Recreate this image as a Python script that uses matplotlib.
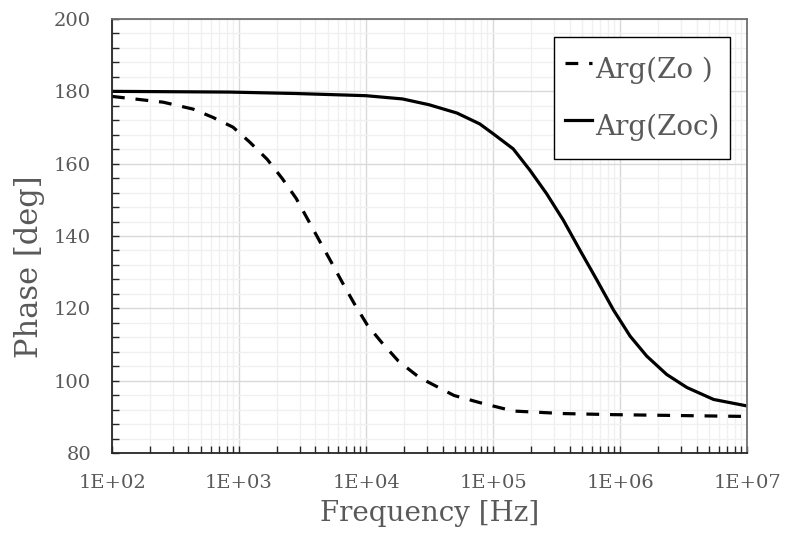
"""
Phase of Zo / Zoc vs frequency
"""
import numpy as np
import matplotlib
matplotlib.use('Agg')
import matplotlib.pyplot as plt
from matplotlib.ticker import FixedLocator, LogLocator, FuncFormatter, NullFormatter

# -----------------------------------
# data
FREQ_ZO = [100, 253, 434, 623, 896, 1211, 1667, 2188, 2818, 3476, 4295, 5301,
           6541, 8079, 10270, 13330, 17990, 25360, 29700, 49300, 79000, 144000,
           357000, 885000, 1e7]
PHASE_ZO = [178.6, 177.0, 175.1, 172.8, 170.1, 166.0, 161.2, 155.9, 150.4, 144.6,
            138.7, 132.9, 127.0, 121.3, 115.3, 110.5, 105.4, 101.3, 99.9, 95.9,
            93.9, 91.6, 90.9, 90.6, 90.1]

FREQ_ZOC = [100, 843, 2818, 10000, 19380, 31330, 52000, 78500, 100000, 144000,
            195000, 264000, 357000, 483000, 655000, 885000, 1.2e6, 1.62e6,
            2.33e6, 3.36e6, 5.45e6, 1e7]
PHASE_ZOC = [180.0, 179.8, 179.4, 178.8, 177.9, 176.3, 174.0, 171.0, 168.3, 164.1,
             158.2, 151.7, 144.4, 136.1, 127.9, 119.6, 112.3, 106.8, 101.7, 98.1,
             94.8, 93.0]

LABELS = ['Arg(Zo )', 'Arg(Zoc)']
XLIM = (1e2, 1e7)
YLIM = (80, 200)
Y_MAJOR = [80, 100, 120, 140, 160, 180, 200]
# -----------------------------------

TXT = '#595959'
plt.rcParams['font.family'] = ['DejaVu Serif']

fig = plt.figure(figsize=(7.86, 5.39), dpi=100)
ax = fig.add_axes([0.1425, 0.1596, 0.808, 0.8051])

ax.plot(FREQ_ZO, PHASE_ZO, color='black', linewidth=2.3, linestyle=(0, (4.0, 3.4)),
        label=LABELS[0])
ax.plot(FREQ_ZOC, PHASE_ZOC, color='black', linewidth=2.3, linestyle='-',
        label=LABELS[1])

ax.set_xscale('log')
ax.set_xlim(XLIM)
ax.set_ylim(YLIM)

ax.xaxis.set_major_locator(LogLocator(base=10, numticks=10))
ax.xaxis.set_minor_locator(LogLocator(base=10, subs=np.arange(2, 10), numticks=20))
ax.xaxis.set_major_formatter(FuncFormatter(lambda v, p: '1E+{:02d}'.format(int(round(np.log10(v))))))
ax.xaxis.set_minor_formatter(NullFormatter())
ax.yaxis.set_major_locator(FixedLocator(Y_MAJOR))
ax.yaxis.set_minor_locator(FixedLocator(np.arange(80, 201, 4)))

ax.grid(which='major', color='#d9d9d9', linewidth=1.0)
ax.grid(which='minor', color='#f0f0f0', linewidth=1.0)
ax.set_axisbelow(True)

ax.tick_params(axis='both', which='both', direction='in', length=5, width=1,
               color='#262626', labelsize=14, labelcolor=TXT, pad=15)
ax.tick_params(axis='x', which='both', top=False)
ax.tick_params(axis='y', which='both', right=False)

for side in ['left', 'bottom']:
    ax.spines[side].set_color('#262626')
    ax.spines[side].set_linewidth(1.3)
for side in ['top', 'right']:
    ax.spines[side].set_color('#6f6f6f')
    ax.spines[side].set_linewidth(1.3)

ax.set_xlabel('Frequency [Hz]', fontsize=20, color=TXT, labelpad=6)
ax.set_ylabel('Phase [deg]', fontsize=22, color=TXT)
ax.yaxis.set_label_coords(-0.1055, 0.4286)

leg = ax.legend(loc='upper right', bbox_to_anchor=(0.9732, 0.9585), borderaxespad=0,
                fontsize=20, frameon=True, fancybox=False, framealpha=1,
                edgecolor='black', handlelength=1.0, handletextpad=0.1,
                borderpad=0.38, handleheight=2.05, labelspacing=0.47)
leg.get_frame().set_linewidth(1.0)
for t in leg.get_texts():
    t.set_color(TXT)

fig.savefig('out.png', dpi=100)
